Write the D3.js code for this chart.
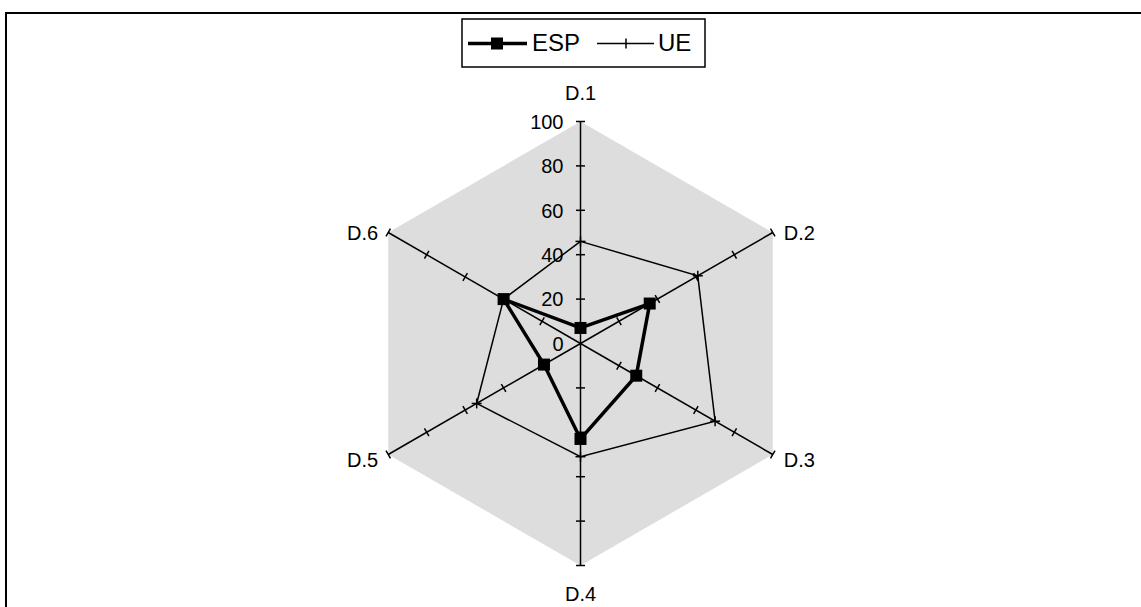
<!DOCTYPE html>
<html>
<head>
<meta charset="utf-8">
<script src="https://cdn.jsdelivr.net/npm/d3@7"></script>
<style>
  html, body { margin: 0; padding: 0; background: #fff; }
  svg { display: block; font-family: "Liberation Sans", Arial, sans-serif; }
</style>
</head>
<body>
<svg id="chart" width="1141" height="607"></svg>
<script>
const categories = ["D.1", "D.2", "D.3", "D.4", "D.5", "D.6"];
const seriesNames = ["ESP", "UE"];
const espValues = [7, 36, 29, 43, 19, 40];
const ueValues = [46, 61, 70, 51, 54, 40];
const tickValues = [0, 20, 40, 60, 80, 100];

const svg = d3.select("#chart");
const cx = 580.5, cy = 343.5, R = 222;
const r = d3.scaleLinear().domain([0, 100]).range([0, R]);
const angle = d3.scalePoint().domain(categories.concat(["_end"])).range([0, 2 * Math.PI]);
const pt = (cat, v) => {
  const a = angle(cat);
  return [cx + r(v) * Math.sin(a), cy - r(v) * Math.cos(a)];
};

// outer frame
svg.append("rect").attr("x", 6).attr("y", 13).attr("width", 1200).attr("height", 700)
  .attr("fill", "none").attr("stroke", "#000").attr("stroke-width", 2);

const g = svg.append("g");

// gray hexagon plot area
g.append("polygon")
  .attr("points", categories.map(c => pt(c, 100).join(",")).join(" "))
  .attr("fill", "#dddddd").attr("stroke", "none");

// axes
categories.forEach(c => {
  const [x2, y2] = pt(c, 100);
  g.append("line").attr("x1", cx).attr("y1", cy).attr("x2", x2).attr("y2", y2)
    .attr("stroke", "#000").attr("stroke-width", 1.5);
  const a = angle(c);
  // perpendicular unit vector
  const px = Math.cos(a), py = Math.sin(a);
  tickValues.filter(t => t > 0).forEach(t => {
    const [tx, ty] = pt(c, t);
    g.append("line")
      .attr("x1", tx - px * 4.5).attr("y1", ty - py * 4.5)
      .attr("x2", tx + px * 4.5).attr("y2", ty + py * 4.5)
      .attr("stroke", "#000").attr("stroke-width", 1.5);
  });
});

// value tick labels on D.1
tickValues.forEach(t => {
  const [tx, ty] = pt("D.1", t);
  g.append("text").attr("x", tx - 17).attr("y", ty).attr("dy", "0.36em")
    .attr("text-anchor", "end").attr("font-size", 20).attr("fill", "#000").text(t);
});

// category labels
const labelPos = {
  "D.1": {dx: 0, dy: -22, anchor: "middle"},
  "D.2": {dx: 11, dy: 7, anchor: "start"},
  "D.3": {dx: 11, dy: 12, anchor: "start"},
  "D.4": {dx: 0, dy: 35, anchor: "middle"},
  "D.5": {dx: -10, dy: 12, anchor: "end"},
  "D.6": {dx: -10, dy: 7, anchor: "end"}
};
categories.forEach(c => {
  const [x, y] = pt(c, 100);
  const lp = labelPos[c];
  g.append("text").attr("x", x + lp.dx).attr("y", y + lp.dy)
    .attr("text-anchor", lp.anchor).attr("font-size", 20).attr("fill", "#000").text(c);
});

// series
const line = d3.line().curve(d3.curveLinearClosed);
const uePts = categories.map((c, i) => pt(c, ueValues[i]));
const espPts = categories.map((c, i) => pt(c, espValues[i]));

g.append("path").attr("d", line(uePts)).attr("fill", "none")
  .attr("stroke", "#000").attr("stroke-width", 1.5);
uePts.forEach(([x, y]) => {
  g.append("line").attr("x1", x).attr("y1", y - 5).attr("x2", x).attr("y2", y + 5)
    .attr("stroke", "#000").attr("stroke-width", 1.5);
  g.append("line").attr("x1", x - 5).attr("y1", y).attr("x2", x + 5).attr("y2", y)
    .attr("stroke", "#000").attr("stroke-width", 1.5);
});

g.append("path").attr("d", line(espPts)).attr("fill", "none")
  .attr("stroke", "#000").attr("stroke-width", 3.5).attr("stroke-linejoin", "miter");
g.selectAll("rect.esp").data(espPts).enter().append("rect").attr("class", "esp")
  .attr("x", d => d[0] - 6).attr("y", d => d[1] - 6).attr("width", 12).attr("height", 12)
  .attr("fill", "#000");

// legend
const lg = svg.append("g");
lg.append("rect").attr("x", 462).attr("y", 19).attr("width", 243).attr("height", 48)
  .attr("fill", "#fff").attr("stroke", "#000").attr("stroke-width", 1.5);
const ly = 43.5;
lg.append("line").attr("x1", 468).attr("y1", ly).attr("x2", 527).attr("y2", ly)
  .attr("stroke", "#000").attr("stroke-width", 3.5);
lg.append("rect").attr("x", 491).attr("y", ly - 6).attr("width", 12).attr("height", 12).attr("fill", "#000");
lg.append("text").attr("x", 532).attr("y", 51).attr("font-size", 24).attr("fill", "#000").text(seriesNames[0]);
lg.append("line").attr("x1", 597).attr("y1", ly).attr("x2", 654).attr("y2", ly)
  .attr("stroke", "#000").attr("stroke-width", 1.5);
lg.append("line").attr("x1", 626).attr("y1", ly - 5).attr("x2", 626).attr("y2", ly + 5)
  .attr("stroke", "#000").attr("stroke-width", 1.5);
lg.append("text").attr("x", 658).attr("y", 51).attr("font-size", 24).attr("fill", "#000").text(seriesNames[1]);
</script>
</body>
</html>
